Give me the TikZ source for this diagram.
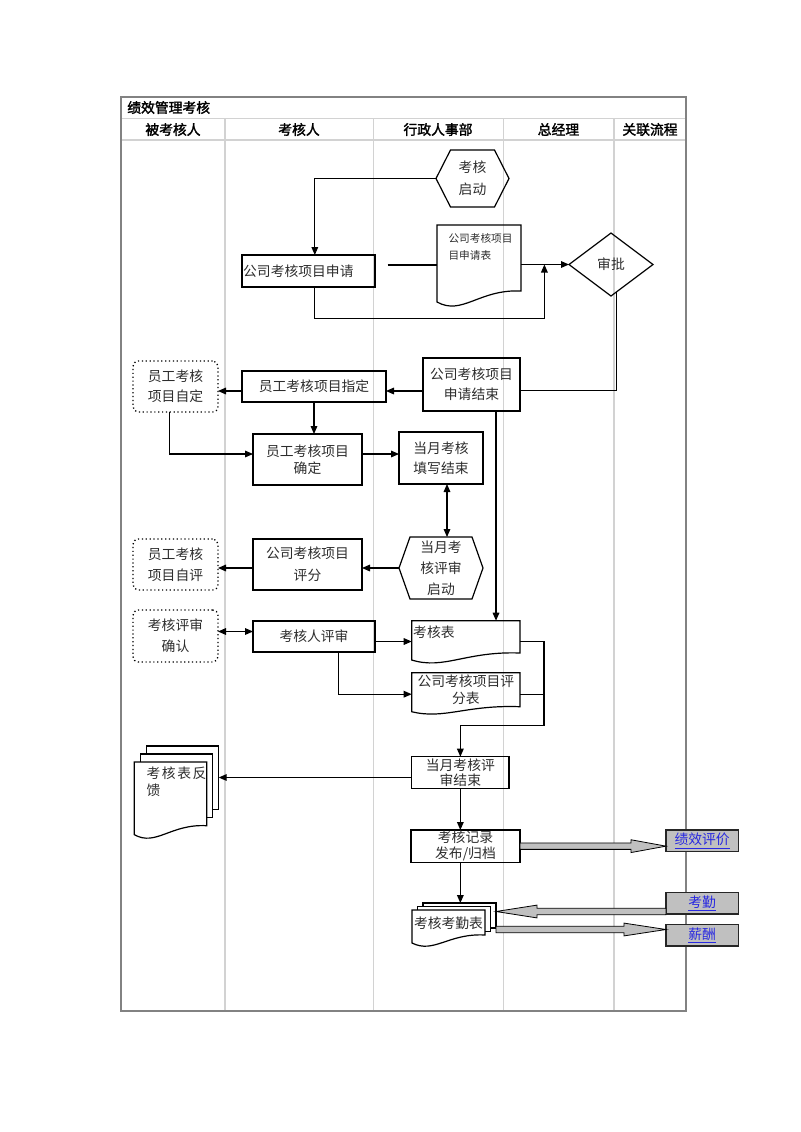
\documentclass[tikz,border=0pt]{standalone}
\usepackage{fontspec}
\setmainfont{Noto Sans CJK SC}[AutoFakeBold=2]
\usetikzlibrary{calc,arrows.meta}
\definecolor{framec}{RGB}{130,130,130}
\definecolor{lanec}{RGB}{210,210,210}
\definecolor{txt}{RGB}{45,45,45}
\definecolor{linkblue}{RGB}{40,40,225}
\definecolor{relfill}{RGB}{192,192,192}
% document shape with wavy bottom around a named node
\newcommand\docwave[2]{\draw[ln] (#1.north west) -- (#1.north east) -- ($(#1.south east)+(0,-#2)$) .. controls ($(#1.south west)!0.5!(#1.south east)+(0,-#2-2)$) and ($(#1.south west)!0.3!(#1.south east)+(0,#2+3)$) .. (#1.south west) -- cycle;}
% back pages of a multi-document
\newcommand\multidoc[4]{%
 \draw[ln] ($(#1.north west)+(#2,0)$) -- ++(0,-#3) -- ($(#1.north east)+(#2,-#3)$) -- ($(#1.south east)+(#2,-#3-#4)$) -- ($(#1.south east)+(0,-#3-#4)$);
 \draw[ln] ($(#1.north west)+(2*#2,-#3)$) -- ++(0,-#3) -- ($(#1.north east)+(2*#2,-2*#3)$) -- ($(#1.south east)+(2*#2,-2*#3-#4)$) -- ($(#1.south east)+(#2,-2*#3-#4)$);}
% hollow fat horizontal arrow
\newcommand\fatarrow[3]{\draw[fat] let \p1=#1, \p2=#2 in ({\x1},{\y1+2.4pt}) -- ({\x2+#3},{\y1+2.4pt}) -- ({\x2+#3},{\y1+4.8pt}) -- ({\x2},{\y1}) -- ({\x2+#3},{\y1-4.8pt}) -- ({\x2+#3},{\y1-2.4pt}) -- ({\x1},{\y1-2.4pt}) -- cycle;}
\begin{document}
\begin{tikzpicture}[x=0.75pt,y=-0.75pt,
  boxat/.style n args={4}{at={({(#1+#3)/2},{(#2+#4)/2})}, minimum width={(#3-#1)*0.75pt}, minimum height={(#4-#2)*0.75pt}},
  ln/.style={line width=0.9pt, draw=black},
  bx/.style={draw=black, line width=0.9pt, inner sep=0pt, outer sep=0pt, align=center, text=txt, font=\fontsize{10.35pt}{15pt}\selectfont},
  ghost/.style={bx, draw=none},
  dbx/.style={bx, dotted, line width=1pt, rounded corners=4pt},
  lsp/.style={font=\fontsize{10.35pt}{#1}\selectfont},
  txtn/.style={inner sep=0pt, outer sep=0pt, text=txt, font=\fontsize{10.35pt}{15pt}\selectfont},
  conn/.style={line width=0.8pt, -{Triangle[length=6pt,width=5pt]}},
  dconn/.style={line width=0.8pt, {Triangle[length=6pt,width=5pt]}-{Triangle[length=6pt,width=5pt]}},
  plain/.style={line width=0.8pt},
  rel/.style={draw=black!85, line width=0.9pt, fill=relfill, inner sep=0pt, outer sep=0pt, text=linkblue, font=\fontsize{10.35pt}{15pt}\selectfont},
  fat/.style={draw=black, line width=0.6pt, fill=relfill},
  hdr/.style={inner sep=0pt, outer sep=0pt, text=black, font=\fontsize{10.35pt}{12pt}\selectfont\bfseries}
]
\useasboundingbox (0,0) rectangle (800,1132);

% ---- table frame and lanes ----
\draw[lanec, line width=0.8pt] (121,118.3) -- (686,118.3) (121,140) -- (686,140);
\draw[lanec, line width=0.8pt] (225,118.3) -- (225,1011) (373.3,118.3) -- (373.3,1011)
  (503.3,118.3) -- (503.3,1011) (614,118.3) -- (614,1011);
\draw[framec, line width=1pt] (121,97) rectangle (686,1011);

\node[hdr, anchor=west] (title) at (127.3,107.5) {绩效管理考核};
\node[hdr] (h1) at (173,129.5) {被考核人};
\node[hdr] (h2) at (299,129.5) {考核人};
\node[hdr] (h3) at (438,129.5) {行政人事部};
\node[hdr] (h4) at (558.5,129.5) {总经理};
\node[hdr] (h5) at (650,129.5) {关联流程};

% ---- nodes ----
\node[ghost, boxat={436}{150}{509}{207}, lsp=16.5pt] (qd) {考核\\启动};
\draw[ln] (qd.west) -- ($(qd.north west)+(14.5,0)$) -- ($(qd.north east)+(-14.5,0)$) -- (qd.east) -- ($(qd.south east)+(-14.5,0)$) -- ($(qd.south west)+(14.5,0)$) -- cycle;

\node[bx, boxat={242}{255}{375}{287}, align=left, text width=98pt] (sq) {公司考核项目申请};

\node[ghost, boxat={437}{225}{521}{302}] (sqb) {};
\docwave{sqb}{11}
\node[txtn, anchor=north west, align=left, font=\fontsize{8pt}{12.75pt}\selectfont] (sqbt) at (448.5,233) {公司考核项目\\目申请表};

\node[ghost, boxat={569}{233}{653}{296}] (sp) {审批};
\draw[ln] (sp.west) -- (sp.north) -- (sp.east) -- (sp.south) -- cycle;

\node[bx, boxat={423}{358}{520}{411}] (sqjs) {公司考核项目\\申请结束};
\node[bx, boxat={242}{371}{386}{402}] (zd) {员工考核项目指定};
\node[dbx, boxat={133}{361}{218}{412}] (zdz) {员工考核\\项目自定};
\node[bx, boxat={253}{434}{362}{485}, lsp=12.75pt] (qdg) {员工考核项目\\确定};
\node[bx, boxat={399}{432}{483}{484}] (txjs) {当月考核\\填写结束};

\node[ghost, boxat={399}{537}{483}{599}, lsp=15.75pt] (psqd) {当月考\\核评审\\启动};
\draw[ln] (psqd.west) -- ($(psqd.north west)+(11,0)$) -- ($(psqd.north east)+(-11,0)$) -- (psqd.east) -- ($(psqd.south east)+(-11,0)$) -- ($(psqd.south west)+(11,0)$) -- cycle;

\node[bx, boxat={253}{539}{362}{590}, lsp=16.5pt] (pf) {公司考核项目\\评分};
\node[dbx, boxat={133}{539}{218}{590}, lsp=15.75pt] (zp) {员工考核\\项目自评};
\node[dbx, boxat={133}{610}{218}{662}, lsp=15.75pt] (qr) {考核评审\\确认};
\node[bx, boxat={253}{621}{375}{652}] (khr) {考核人评审};

\node[ghost, boxat={411.7}{620.7}{520}{660}] (khb) {};
\docwave{khb}{7}
\node[txtn, anchor=west] (khbt) at ($(khb.north west)+(1.5,11.5)$) {考核表};

\node[ghost, boxat={411.7}{672.7}{520}{711.7}] (pfb) {};
\docwave{pfb}{5}
\node[txtn, anchor=north, align=center, lsp=12.5pt] (pfbt) at ($(pfb.north)+(0,2.5)$) {公司考核项目评\\分表};

\node[bx, boxat={411.7}{756.7}{509}{788.3}, lsp=11.25pt] (psjs) {当月考核评\\审结束};

\node[ghost, boxat={134.3}{762}{206.7}{834.7}] (fk) {};
\multidoc{fk}{6}{8}{9}
\docwave{fk}{9}
\node[txtn, anchor=north west, align=left, lsp=12.5pt] (fkt) at (146.5,767) {考\hspace{1.2pt}核\hspace{1.2pt}表\hspace{1.2pt}反\\馈};
\coordinate (fkR) at ($(fk.east)+(12,0)$);

\node[bx, boxat={411}{830}{520}{862.3}, lsp=11.75pt] (jl) {考核记录\\发布/归档};

\node[ghost, boxat={412}{910}{485}{943}] (kqb) {};
\multidoc{kqb}{5.5}{3.5}{8}
\docwave{kqb}{8}
\node[txtn] (kqbt) at ($(kqb.center)+(0,-3)$) {考核考勤表};
\coordinate (kqbR) at ($(kqb.east)+(11,0)$);
\coordinate (kqbT) at ($(kqb.north)+(0,-7)$);

\node[rel, boxat={666}{830}{738.3}{851.7}] (jx) {\underline{绩效评价}};
\node[rel, boxat={666}{892.7}{738.3}{914}] (kq) {\underline{考勤}};
\node[rel, boxat={666}{924.3}{738.3}{946}] (xc) {\underline{薪酬}};

% ---- connectors ----
\draw[conn] (qd.west) -| ($(sq.north)+(6.3,0)$);
\coordinate (fl) at (387.5,265);
\draw[plain] (fl) -- (fl -| sqb.west);
\draw[conn] (sqb.east |- sp.west) -- (sp.west);
\coordinate (jn1) at (544.4,318.3);
\draw[conn] ($(sq.south)+(6.3,0)$) |- (jn1) -- (jn1 |- sp.west);
\draw[plain] ($(sp.south)!0.13!(sp.east)$) |- ($(sqjs.east)+(0,6)$);

\coordinate (r1) at ($(sqjs.west)+(0,6.5)$);
\draw[conn] (r1) -- (r1 -| zd.east);
\draw[conn] (r1 -| zd.west) -- (r1 -| zdz.east);
\draw[conn] (zd.south) -- (zd.south |- qdg.north);
\coordinate (r2) at (300,454);
\draw[conn] ($(zdz.south)+(-6,0)$) |- (r2 -| qdg.west);
\draw[conn] (r2 -| qdg.east) -- (r2 -| txjs.west);
\draw[dconn] ($(txjs.south)+(6,0)$) coordinate (d1) -- (d1 |- psqd.north);
\draw[conn] (psqd.west) -- (psqd.west -| pf.east);
\draw[conn] (psqd.west -| pf.west) -- (psqd.west -| zp.east);
\draw[conn] ($(sqjs.south)+(24.5,0)$) coordinate (v1) -- (v1 |- khb.north);

\draw[dconn] ($(khr.west)+(0,-5)$) coordinate (a4) -- (a4 -| qr.east);
\draw[conn] ($(khr.east)+(0,5)$) coordinate (a5) -- (a5 -| khb.west);
\draw[conn] ($(khr.south)+(24.7,0)$) |- ($(pfb.west)+(0,2)$);
\coordinate (jn2) at (544,725.7);
\draw[plain] (a5 -| khb.east) -| (jn2);
\draw[plain] ($(pfb.east)+(0,2)$) coordinate (a6) -- (a6 -| jn2);
\draw[conn] (jn2) -| (psjs.south |- psjs.north);

\coordinate (fkin) at ($(psjs.west)+(0,5)$);
\draw[conn] (fkin) -- (fkin -| fkR);
\draw[conn] (psjs.south) -- (psjs.south |- jl.north);
\draw[conn] (psjs.south |- jl.south) -- (psjs.south |- kqbT);

% ---- related-process fat arrows ----
\fatarrow{(jl.east)}{(jx.west |- jl.east)}{-26.25pt}
\coordinate (kqin) at ($(kq.south west)+(0,-2.5)$);
\fatarrow{(kqin)}{(kqin -| kqbR)}{30.75pt}
\coordinate (xcin) at ($(xc.north west)+(0,5.2)$);
\fatarrow{(xcin -| kqbR)}{(xcin)}{-31.5pt}
\end{tikzpicture}
\end{document}
